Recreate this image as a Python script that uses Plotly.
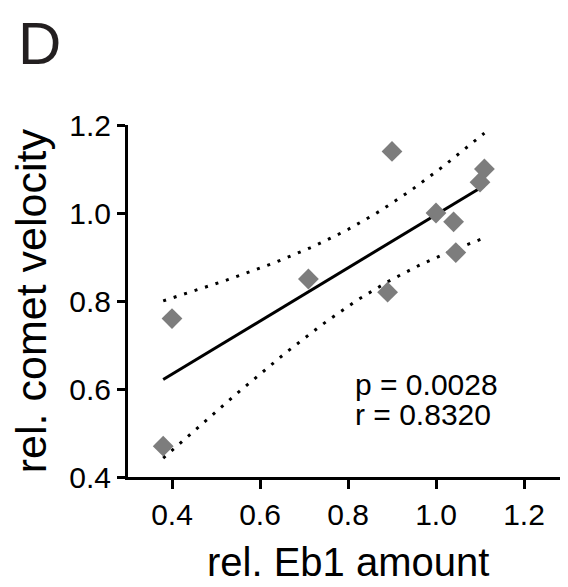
import numpy as np
import plotly.graph_objects as go

# rel. Eb1 amount vs rel. comet velocity
eb1_amount = [0.40, 0.38, 0.71, 0.89, 0.90, 1.00, 1.04, 1.045, 1.10, 1.11]
comet_velocity = [0.76, 0.47, 0.85, 0.82, 1.14, 1.00, 0.98, 0.91, 1.07, 1.10]

x_ticks = [0.4, 0.6, 0.8, 1.0, 1.2]
y_ticks = [0.4, 0.6, 0.8, 1.0, 1.2]

p_text = "p = 0.0028"
r_text = "r = 0.8320"

FONT = "Liberation Sans, Arial, sans-serif"

# linear fit + 95% confidence band of the fit
x = np.array(eb1_amount)
y = np.array(comet_velocity)
n = len(x)
slope, intercept = np.polyfit(x, y, 1)
resid = y - (slope * x + intercept)
s = np.sqrt(np.sum(resid ** 2) / (n - 2))
sxx = np.sum((x - x.mean()) ** 2)
t_crit = 2.306  # t(0.975, df=8)

xf = np.linspace(x.min(), x.max(), 60)
yf = slope * xf + intercept
half = t_crit * s * np.sqrt(1.0 / n + (xf - x.mean()) ** 2 / sxx)

fig = go.Figure()

for band in (yf + half, yf - half):
    fig.add_trace(go.Scatter(
        x=xf, y=band, mode="lines",
        line=dict(color="black", width=3, dash="3px,8px"),
        hoverinfo="skip", showlegend=False))

fig.add_trace(go.Scatter(
    x=xf, y=yf, mode="lines",
    line=dict(color="black", width=3),
    showlegend=False))

fig.add_trace(go.Scatter(
    x=eb1_amount, y=comet_velocity, mode="markers",
    marker=dict(symbol="diamond", size=16, color="rgb(125,125,125)"),
    showlegend=False))

axis_common = dict(
    showgrid=False, zeroline=False, showline=True,
    linecolor="black", linewidth=3,
    ticks="outside", tickcolor="black", tickwidth=3,
    tickfont=dict(family=FONT, size=30, color="black"),
)

fig.update_xaxes(range=[0.3, 1.3], tickvals=x_ticks,
                 ticktext=[f"{v:.1f}" for v in x_ticks], ticklen=9,
                 **axis_common)
fig.update_yaxes(range=[0.4, 1.2], tickvals=y_ticks,
                 ticktext=[f"{v:.1f}" for v in y_ticks], ticklen=8,
                 **axis_common)

annotations = [
    dict(text="D", xref="paper", yref="paper", x=-0.2545, y=1.332,
         xanchor="left", yanchor="top", showarrow=False,
         font=dict(family=FONT, size=60, color="#231f20")),
    dict(text="rel. Eb1 amount", xref="paper", yref="paper", x=0.5, y=-0.3097,
         xanchor="center", yanchor="bottom", showarrow=False,
         font=dict(family=FONT, size=40, color="black")),
    dict(text="rel. comet velocity", xref="paper", yref="paper", x=-0.22, y=0.5,
         xanchor="center", yanchor="middle", textangle=-90, showarrow=False,
         font=dict(family=FONT, size=43, color="black")),
    dict(text=p_text, xref="x", yref="y", x=0.812, y=0.610,
         xanchor="left", yanchor="middle", showarrow=False,
         font=dict(family=FONT, size=30, color="black")),
    dict(text=r_text, xref="x", yref="y", x=0.812, y=0.541,
         xanchor="left", yanchor="middle", showarrow=False,
         font=dict(family=FONT, size=30, color="black")),
]

# the page body keeps its default 8px margin, so the figure is 8px smaller
# and the plot area lands where the reference has it
fig.update_layout(
    width=560, height=579,
    margin=dict(l=120, r=0, t=117, b=110),
    plot_bgcolor="white", paper_bgcolor="white",
    annotations=annotations,
    showlegend=False,
)

fig.write_html("out.html")
